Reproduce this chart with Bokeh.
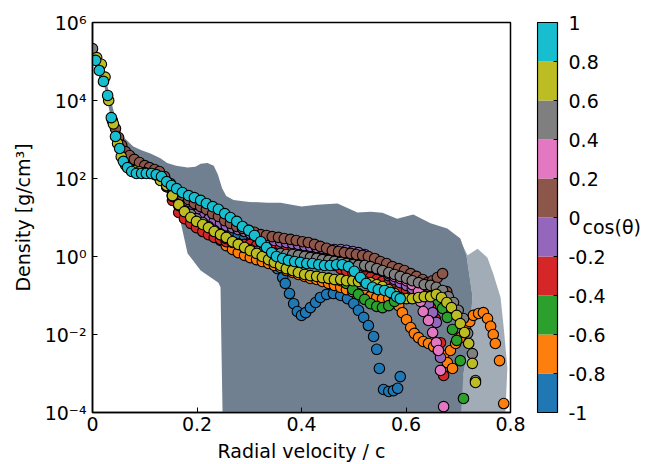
import numpy as np
from bokeh.plotting import figure
from bokeh.layouts import row
from bokeh.models import Range1d, FixedTicker, CustomJSTickFormatter
from bokeh.core.properties import value
from bokeh.embed import file_html
from bokeh.resources import INLINE

# ---------------- data ----------------
cos_ticks = [-1, -0.8, -0.6, -0.4, -0.2, 0, 0.2, 0.4, 0.6, 0.8, 1]
bin_colors = ["#1f77b4", "#ff7f0e", "#2ca02c", "#d62728", "#9467bd",
              "#8c564b", "#e377c2", "#7f7f7f", "#bcbd22", "#17becf"]
cbar_title = "cos(\u03b8)"
x_ticks = [0.0, 0.2, 0.4, 0.6, 0.8]
y_ticks = [1e-4, 1e-2, 1e0, 1e2, 1e4, 1e6]

# outline of the grey cloud of all cells: (v/c, log10 rho)
cloud_dense = [
    (0.004, 5.40), (0.015, 5.00), (0.025, 4.55), (0.033, 4.15), (0.040, 3.75),
    (0.048, 3.35), (0.060, 3.05), (0.078, 2.82), (0.095, 2.72), (0.111, 2.64),
    (0.130, 2.52), (0.143, 2.40), (0.160, 2.33), (0.182, 2.28), (0.197, 2.30),
    (0.207, 2.38), (0.220, 2.40), (0.232, 2.33), (0.240, 2.10), (0.248, 1.75),
    (0.256, 1.55), (0.270, 1.45), (0.300, 1.40), (0.335, 1.38), (0.360, 1.38),
    (0.400, 1.28), (0.430, 1.33), (0.469, 1.36), (0.507, 1.13), (0.532, 1.15),
    (0.555, 1.12), (0.583, 0.97), (0.614, 1.08), (0.647, 0.85), (0.679, 0.72),
    (0.704, 0.46), (0.716, 0.00), (0.727, -1.00), (0.723, -2.00), (0.710, -3.00),
    (0.705, -4.10), (0.249, -4.10), (0.247, -2.50), (0.245, -0.79), (0.241, -0.67),
    (0.207, -0.36), (0.182, 0.08), (0.168, 0.92), (0.150, 1.50), (0.130, 1.85),
    (0.110, 2.02), (0.090, 2.06), (0.070, 2.12), (0.055, 2.45), (0.045, 2.95),
    (0.035, 3.55), (0.025, 4.25), (0.012, 4.80), (0.003, 5.20)]
cloud_sparse = [
    (0.700, 0.50), (0.718, 0.03), (0.737, 0.20), (0.756, -0.03), (0.767, -0.44),
    (0.781, -1.05), (0.787, -1.82), (0.794, -2.85), (0.790, -4.10), (0.700, -4.10),
    (0.710, -3.00), (0.723, -2.00), (0.727, -1.00), (0.716, 0.00)]

# one list per angle: (v/c, log10 rho)
ang_blue = [
    (0.130, 2.03), (0.142, 1.90), (0.153, 1.69), (0.165, 1.51), (0.176, 1.38),
    (0.188, 1.31), (0.199, 1.23), (0.211, 1.15), (0.222, 1.05), (0.233, 0.97),
    (0.245, 0.87), (0.256, 0.77), (0.268, 0.67), (0.279, 0.56), (0.291, 0.46),
    (0.302, 0.36), (0.314, 0.23), (0.325, 0.10), (0.337, -0.03), (0.348, -0.18),
    (0.354, -0.31), (0.364, -0.54), (0.369, -0.69), (0.377, -0.95), (0.385, -1.21),
    (0.392, -1.41), (0.400, -1.51), (0.408, -1.44), (0.417, -1.31), (0.427, -1.18),
    (0.436, -1.05), (0.448, -0.97), (0.461, -0.95), (0.475, -1.00), (0.488, -1.08),
    (0.500, -1.21), (0.509, -1.38), (0.519, -1.56), (0.528, -1.77), (0.538, -2.05),
    (0.544, -2.38), (0.549, -2.87), (0.557, -3.41), (0.567, -3.46), (0.576, -3.44),
    (0.584, -3.38), (0.589, -3.08)]
ang_orange_a = [
    (0.130, 2.00), (0.142, 1.79), (0.153, 1.56), (0.165, 1.36), (0.176, 1.23),
    (0.188, 1.15), (0.199, 1.05), (0.211, 0.92), (0.222, 0.77), (0.233, 0.59),
    (0.245, 0.41), (0.256, 0.28), (0.268, 0.18), (0.279, 0.10), (0.291, 0.03),
    (0.302, -0.03), (0.314, -0.08), (0.325, -0.13), (0.337, -0.18), (0.348, -0.23),
    (0.360, -0.28), (0.371, -0.36), (0.383, -0.41), (0.394, -0.46), (0.406, -0.51),
    (0.417, -0.56), (0.429, -0.59), (0.440, -0.64), (0.452, -0.69), (0.463, -0.74),
    (0.475, -0.79), (0.486, -0.85), (0.498, -0.90), (0.509, -0.95), (0.521, -1.00),
    (0.532, -1.03), (0.544, -1.05), (0.555, -1.08), (0.567, -1.08), (0.578, -1.10),
    (0.586, -1.26), (0.593, -1.44), (0.601, -1.62), (0.609, -1.82), (0.616, -1.97),
    (0.624, -2.08), (0.633, -2.18), (0.643, -2.23), (0.653, -2.31), (0.662, -2.41),
    (0.672, -2.54), (0.679, -2.72), (0.689, -2.87)]
ang_orange_b = [
    (0.685, -2.41), (0.695, -2.23), (0.704, -2.08), (0.714, -1.85), (0.722, -1.67),
    (0.729, -1.51), (0.739, -1.46), (0.748, -1.44), (0.756, -1.59), (0.762, -1.79),
    (0.767, -2.00), (0.771, -2.23), (0.779, -2.67), (0.787, -3.77)]
ang_green = [
    (0.440, -0.54), (0.452, -0.56), (0.463, -0.59), (0.475, -0.62), (0.486, -0.69),
    (0.498, -0.85), (0.509, -0.97), (0.521, -1.10), (0.532, -1.21), (0.544, -1.28),
    (0.555, -1.31), (0.567, -1.26), (0.578, -1.15), (0.589, -1.05), (0.601, -0.95),
    (0.612, -0.90), (0.624, -0.92), (0.635, -1.00), (0.647, -1.10), (0.658, -1.21),
    (0.670, -1.33), (0.679, -1.56), (0.689, -1.87), (0.697, -2.15), (0.704, -2.67),
    (0.710, -3.64)]
ang_red = [
    (0.130, 1.97), (0.142, 1.79), (0.153, 1.44), (0.165, 1.13), (0.176, 0.97),
    (0.188, 0.85), (0.199, 0.74), (0.211, 0.64), (0.222, 0.56), (0.233, 0.49),
    (0.245, 0.44), (0.256, 0.38), (0.268, 0.36), (0.279, 0.33), (0.291, 0.31),
    (0.302, 0.31), (0.314, 0.28), (0.325, 0.28), (0.337, 0.28), (0.348, 0.28),
    (0.360, 0.28), (0.371, 0.28), (0.383, 0.26), (0.394, 0.23), (0.406, 0.18),
    (0.417, 0.13), (0.429, 0.05), (0.440, -0.05), (0.452, -0.15), (0.463, -0.23),
    (0.475, -0.31), (0.486, -0.36), (0.498, -0.41), (0.509, -0.46), (0.521, -0.51),
    (0.532, -0.54), (0.544, -0.59), (0.555, -0.64), (0.567, -0.69), (0.578, -0.74),
    (0.589, -0.79), (0.601, -0.87), (0.612, -0.97), (0.624, -1.08), (0.635, -1.18),
    (0.647, -1.31), (0.656, -1.59), (0.666, -2.21), (0.672, -3.05)]
ang_purple = [
    (0.130, 2.03), (0.142, 1.82), (0.153, 1.59), (0.165, 1.38), (0.176, 1.26),
    (0.188, 1.15), (0.199, 1.08), (0.211, 1.00), (0.222, 0.95), (0.233, 0.90),
    (0.245, 0.85), (0.256, 0.79), (0.268, 0.74), (0.279, 0.69), (0.291, 0.64),
    (0.302, 0.59), (0.314, 0.54), (0.325, 0.51), (0.337, 0.46), (0.348, 0.41),
    (0.360, 0.38), (0.371, 0.36), (0.383, 0.33), (0.394, 0.31), (0.406, 0.28),
    (0.417, 0.26), (0.429, 0.23), (0.440, 0.21), (0.452, 0.18), (0.463, 0.18),
    (0.475, 0.18), (0.486, 0.16), (0.498, 0.13), (0.509, 0.10), (0.521, 0.05),
    (0.532, -0.05), (0.544, -0.18), (0.555, -0.36), (0.567, -0.49), (0.578, -0.59),
    (0.589, -0.67), (0.601, -0.74), (0.612, -0.82), (0.624, -0.92), (0.633, -1.05),
    (0.643, -1.23), (0.651, -1.44), (0.658, -1.69), (0.666, -2.59)]
ang_brown_b = [
    (0.551, -0.15), (0.563, -0.23), (0.574, -0.31), (0.586, -0.38), (0.597, -0.46),
    (0.609, -0.54), (0.620, -0.62), (0.632, -0.69), (0.643, -0.77), (0.655, -0.82),
    (0.666, -0.87), (0.678, -0.90)]
ang_brown_a = [
    (0.038, 3.49), (0.044, 3.28), (0.050, 3.05), (0.056, 2.85), (0.063, 2.69),
    (0.071, 2.59), (0.080, 2.49), (0.090, 2.41), (0.100, 2.33), (0.109, 2.28),
    (0.119, 2.23), (0.128, 2.18), (0.138, 2.05), (0.149, 1.87), (0.161, 1.69),
    (0.172, 1.56), (0.184, 1.46), (0.195, 1.36), (0.207, 1.28), (0.218, 1.21),
    (0.230, 1.10), (0.241, 1.03), (0.253, 0.92), (0.264, 0.85), (0.276, 0.77),
    (0.287, 0.72), (0.299, 0.67), (0.310, 0.62), (0.322, 0.56), (0.333, 0.54),
    (0.344, 0.51), (0.356, 0.49), (0.367, 0.46), (0.379, 0.44), (0.390, 0.41),
    (0.402, 0.38), (0.413, 0.36), (0.425, 0.31), (0.436, 0.26), (0.448, 0.21),
    (0.459, 0.15), (0.471, 0.13), (0.482, 0.10), (0.494, 0.08), (0.505, 0.05),
    (0.517, 0.03), (0.528, 0.00), (0.540, -0.05), (0.551, -0.13), (0.563, -0.18),
    (0.574, -0.26), (0.586, -0.31), (0.597, -0.36), (0.609, -0.44), (0.620, -0.51),
    (0.632, -0.59), (0.641, -0.67), (0.651, -0.62), (0.660, -0.54), (0.670, -0.44)]
ang_pink = [
    (0.394, 0.03), (0.406, 0.00), (0.417, -0.03), (0.429, -0.05), (0.440, -0.08),
    (0.452, -0.10), (0.463, -0.13), (0.475, -0.15), (0.486, -0.18), (0.498, -0.21),
    (0.509, -0.23), (0.521, -0.26), (0.532, -0.28), (0.544, -0.33), (0.555, -0.38),
    (0.567, -0.44), (0.578, -0.51), (0.589, -0.56), (0.601, -0.62), (0.612, -0.72),
    (0.624, -0.90), (0.628, -1.15), (0.633, -1.41), (0.643, -1.64), (0.651, -1.95),
    (0.658, -2.21), (0.662, -2.41), (0.666, -2.92), (0.672, -3.85)]
ang_gray = [
    (0.000, 5.33), (0.130, 2.00), (0.142, 1.85), (0.153, 1.54), (0.165, 1.31),
    (0.176, 1.18), (0.188, 1.08), (0.199, 0.97), (0.211, 0.87), (0.222, 0.77),
    (0.233, 0.67), (0.245, 0.56), (0.256, 0.46), (0.268, 0.38), (0.279, 0.31),
    (0.291, 0.23), (0.302, 0.18), (0.314, 0.13), (0.325, 0.10), (0.337, 0.08),
    (0.348, 0.08), (0.360, 0.08), (0.371, 0.05), (0.383, 0.05), (0.394, 0.03),
    (0.406, 0.00), (0.417, -0.03), (0.429, -0.05), (0.440, -0.08), (0.452, -0.10),
    (0.463, -0.13), (0.475, -0.15), (0.486, -0.18), (0.498, -0.21), (0.509, -0.23),
    (0.521, -0.23), (0.532, -0.26), (0.544, -0.31), (0.555, -0.36), (0.567, -0.41),
    (0.578, -0.46), (0.589, -0.51), (0.601, -0.56), (0.612, -0.62), (0.624, -0.67),
    (0.635, -0.72), (0.647, -0.74), (0.658, -0.79), (0.670, -0.87), (0.681, -1.03),
    (0.691, -1.18), (0.700, -1.38), (0.710, -1.59), (0.718, -1.97), (0.727, -2.49),
    (0.733, -3.18)]
ang_olive = [
    (0.008, 5.10), (0.017, 4.93), (0.024, 4.60), (0.031, 4.00), (0.040, 3.40),
    (0.048, 2.90), (0.055, 2.56), (0.063, 2.35), (0.071, 2.25), (0.080, 2.20),
    (0.090, 2.17), (0.100, 2.15), (0.110, 2.13), (0.120, 2.10), (0.130, 1.95),
    (0.142, 1.82), (0.153, 1.56), (0.165, 1.33), (0.176, 1.15), (0.188, 1.00),
    (0.199, 0.90), (0.211, 0.82), (0.222, 0.74), (0.233, 0.64), (0.245, 0.56),
    (0.256, 0.49), (0.268, 0.38), (0.279, 0.31), (0.291, 0.23), (0.302, 0.15),
    (0.314, 0.08), (0.325, 0.00), (0.337, -0.08), (0.348, -0.15), (0.360, -0.23),
    (0.371, -0.31), (0.383, -0.36), (0.394, -0.41), (0.406, -0.46), (0.417, -0.49),
    (0.429, -0.51), (0.440, -0.54), (0.452, -0.56), (0.463, -0.59), (0.475, -0.59),
    (0.486, -0.62), (0.498, -0.62), (0.509, -0.64), (0.521, -0.64), (0.532, -0.67),
    (0.544, -0.72), (0.555, -0.77), (0.567, -0.85), (0.578, -0.95), (0.589, -1.05),
    (0.601, -1.08), (0.612, -1.08), (0.624, -1.05), (0.635, -1.03), (0.647, -1.03),
    (0.658, -0.97), (0.668, -1.05), (0.678, -1.18), (0.687, -1.31), (0.697, -1.51),
    (0.704, -1.72), (0.712, -1.95), (0.720, -2.23), (0.727, -2.74), (0.733, -3.23)]
ang_cyan = [
    (0.006, 5.03), (0.013, 4.77), (0.021, 4.49), (0.029, 4.13), (0.036, 3.56),
    (0.044, 3.08), (0.052, 2.77), (0.059, 2.44), (0.067, 2.28), (0.075, 2.18),
    (0.084, 2.13), (0.094, 2.13), (0.103, 2.13), (0.113, 2.13), (0.122, 2.10),
    (0.132, 2.05), (0.142, 1.92), (0.151, 1.82), (0.161, 1.74), (0.172, 1.64),
    (0.184, 1.56), (0.195, 1.51), (0.207, 1.44), (0.218, 1.36), (0.230, 1.28),
    (0.241, 1.21), (0.253, 1.10), (0.264, 1.00), (0.276, 0.90), (0.287, 0.77),
    (0.299, 0.67), (0.310, 0.54), (0.322, 0.38), (0.333, 0.23), (0.343, 0.10),
    (0.352, 0.00), (0.364, -0.05), (0.375, -0.10), (0.387, -0.13), (0.398, -0.15),
    (0.410, -0.18), (0.421, -0.18), (0.433, -0.21), (0.444, -0.23), (0.455, -0.23),
    (0.467, -0.21), (0.478, -0.21), (0.490, -0.26), (0.501, -0.38), (0.513, -0.54),
    (0.524, -0.69), (0.536, -0.79), (0.547, -0.85), (0.559, -0.87), (0.570, -0.92),
    (0.582, -1.03), (0.589, -1.08)]

angles = [(0, ang_blue), (1, ang_orange_a), (1, ang_orange_b), (2, ang_green),
          (3, ang_red), (4, ang_purple), (5, ang_brown_b), (5, ang_brown_a),
          (6, ang_pink), (7, ang_gray), (8, ang_olive), (9, ang_cyan)]

# ---------------- main figure ----------------
FONT = "DejaVu Sans"
p = figure(x_range=Range1d(0, 0.8), y_range=Range1d(1e-4, 1e6), y_axis_type="log",
           frame_width=418, frame_height=390,
           min_border_left=92, min_border_right=26, min_border_top=22, min_border_bottom=52,
           output_backend="svg", toolbar_location=None)
p.background_fill_color = "white"
p.border_fill_color = "white"
p.grid.visible = False
p.outline_line_color = "black"
p.outline_line_width = 1.5


def to_xy(pts):
    xs = [a for a, b in pts]
    ys = list(10.0 ** np.array([b for a, b in pts]))
    return xs, ys


cx, cy = to_xy(cloud_dense)
p.patch(cx, cy, fill_color="#708090", line_color=None)
sx, sy = to_xy(cloud_sparse)
p.patch(sx, sy, fill_color="#708090", fill_alpha=0.65, line_color=None)

for ci, pts in angles:
    xs, ys = to_xy(pts)
    p.scatter(xs, ys, size=10.5, fill_color=bin_colors[ci], line_color="black",
              line_width=1.1)


def style_axis(ax):
    ax.axis_line_color = "black"
    ax.axis_line_width = 1.5
    ax.major_tick_in = 5
    ax.major_tick_out = 0
    ax.major_tick_line_color = "black"
    ax.major_tick_line_width = 1
    ax.minor_tick_line_color = None
    ax.major_label_text_font = FONT
    ax.major_label_text_font_size = "19px"
    ax.major_label_text_color = "black"
    ax.axis_label_text_font = FONT
    ax.axis_label_text_font_size = "19px"
    ax.axis_label_text_font_style = "normal"
    ax.axis_label_text_color = "black"


style_axis(p.xaxis[0])
style_axis(p.yaxis[0])

p.xaxis.ticker = FixedTicker(ticks=x_ticks)
p.xaxis.axis_label = "Radial velocity / c"
p.xaxis.major_label_standoff = 4
p.xaxis.axis_label_standoff = 6

p.yaxis.ticker = FixedTicker(ticks=y_ticks, minor_ticks=[])
p.yaxis.formatter = CustomJSTickFormatter(code="""
const e = Math.round(Math.log10(tick));
const sup = {'-':'\u207b','0':'\u2070','1':'\u00b9','2':'\u00b2','3':'\u00b3','4':'\u2074',
             '5':'\u2075','6':'\u2076','7':'\u2077','8':'\u2078','9':'\u2079'};
return '10' + String(e).split('').map(c => sup[c]).join('');
""")
p.yaxis.axis_label = "Density [g/cm\u00b3]"
p.yaxis.major_label_standoff = 6
p.yaxis.axis_label_standoff = 8

# ---------------- colour bar (own figure; x in pixels from its left edge) ----------------
U = 2.0 / 390                # one pixel in cos(theta) units
can_unalign = "frame_align" in p.properties()
if can_unalign:
    top_px, bot_px = 22, 52
    cb_kw = dict(frame_height=464, min_border_top=0, min_border_bottom=0)
else:
    top_px, bot_px = 1, 5
    cb_kw = dict(frame_height=396, min_border_top=22, min_border_bottom=46)

cb = figure(title=None, x_range=Range1d(-1, 109),
            y_range=Range1d(-1 - bot_px * U, 1 + top_px * U),
            frame_width=110, min_border_left=0, min_border_right=0,
            output_backend="svg", toolbar_location=None, **cb_kw)
if can_unalign:
    p.frame_align = False
    cb.frame_align = False
cb.background_fill_color = "white"
cb.border_fill_color = "white"
cb.grid.visible = False
cb.axis.visible = False
cb.outline_line_color = None

cb.quad(left=0, right=20, bottom=cos_ticks[:-1], top=cos_ticks[1:],
        fill_color=bin_colors, line_color=None)
cb.quad(left=0, right=20, bottom=cos_ticks[0], top=cos_ticks[-1],
        fill_color=None, line_color="black", line_width=1.2)
cb.segment(x0=16, x1=20, y0=cos_ticks[1:-1], y1=cos_ticks[1:-1],
           line_color="black", line_width=1)
cb.text(x=31, y=cos_ticks, text=[f"{t:g}" for t in cos_ticks],
        text_font=value(FONT), text_font_size="19px", text_color="black",
        text_align="left", text_baseline="middle")
cb.text(x=[45], y=[-0.05], text=[cbar_title],
        text_font=value(FONT), text_font_size="19px", text_color="black",
        text_align="left", text_baseline="middle")

layout = row(p, cb)
open("out.html", "w").write(file_html(layout, INLINE))
